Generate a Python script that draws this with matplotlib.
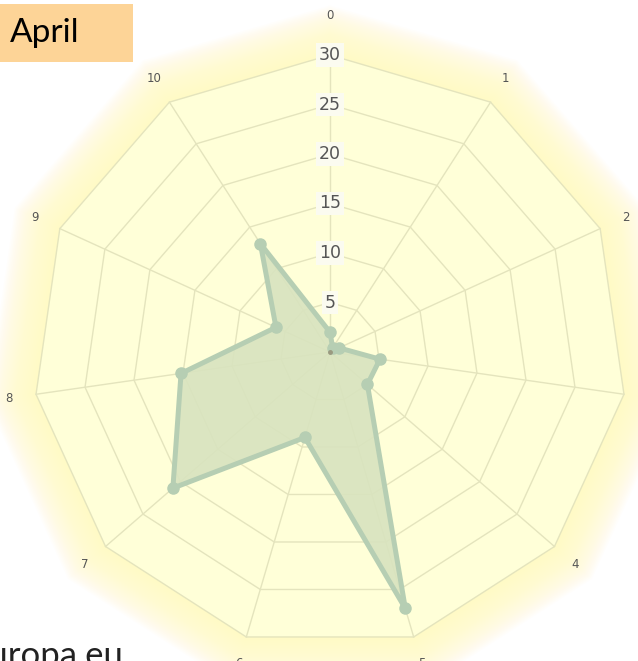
import numpy as np
import matplotlib.pyplot as plt

# radar categories and values (April)
categories = ['0', '1', '2', '3', '4', '5', '6', '7', '8', '9', '10']
values = [2, 0.5, 1, 5.1, 5, 27, 9, 21, 15.2, 6, 13]
ring_ticks = [5, 10, 15, 20, 25, 30]
title = 'April'
source = 'europa.eu'

n = len(categories)
theta = np.arange(n) * 2 * np.pi / n
rmax = 30

fig = plt.figure(figsize=(6.38, 6.61), dpi=100)
fig.patch.set_facecolor('white')

# center at (330, 352) px, radius 297 px
cx, cy, rad = 330 / 638, 1 - 352 / 661, 297
w, h = rad / 638, rad / 661
ax = fig.add_axes([cx - w, cy - h, 2 * w, 2 * h], projection='polar')
ax.set_theta_zero_location('N')
ax.set_theta_direction(-1)
ax.set_ylim(0, rmax)
ax.set_axis_off()

tc = np.append(theta, theta[0])

# soft yellow glow around the web
for k in range(30):
    r = rmax + 5.0 - k * 0.17
    ax.fill(tc, np.full(n + 1, r), color='#fffac0', alpha=0.055, lw=0, clip_on=False, zorder=0)
ax.fill(tc, np.full(n + 1, rmax), color='#ffffd8', lw=0, clip_on=False, zorder=1)

# polygon grid
for r in ring_ticks:
    ax.plot(tc, np.full(n + 1, r), color='#e4e4bd', lw=1, clip_on=False, zorder=2)
for t in theta:
    ax.plot([t, t], [0, rmax], color='#e4e4bd', lw=1, clip_on=False, zorder=2)

# data polygon
vc = np.append(values, values[0])
ax.fill(tc, vc, color='#d8e3bf', alpha=0.9, lw=0, zorder=3)
ax.plot(tc, vc, color='#b6ceb3', lw=3.6, solid_joinstyle='round', zorder=4)
ax.plot(theta, values, 'o', ms=8, color='#b6ceb3', zorder=5)
ax.plot([0], [0], 'o', ms=2.5, color='#9a9a80', zorder=6)

# ring labels along axis 0
for r in ring_ticks:
    ax.text(0, r, str(r), ha='center', va='center', fontsize=12.5, color='#555555',
            bbox=dict(boxstyle='square,pad=0.15', fc='#fbfbf0', ec='none'), zorder=7)

# category labels
for t, lab in zip(theta, categories):
    lr = 34 if lab == '0' else 32.8
    ax.text(t, lr, lab, ha='center', va='center', fontsize=8.5,
            color='#555555', clip_on=False, zorder=7)

# title box
fig.patches.append(plt.Rectangle((0, 1 - 62 / 661), 133 / 638, 58 / 661,
                                 transform=fig.transFigure, fc='#fdd497', ec='none'))
fig.text(10 / 638, 1 - 33 / 661, title, fontsize=24, color='black', va='center',
         family='Lato')

fig.text(-30 / 638, 1 - 666 / 661, source, fontsize=25, color='#222222', va='baseline',
         family='Lato')

fig.savefig('out.png', dpi=100)
